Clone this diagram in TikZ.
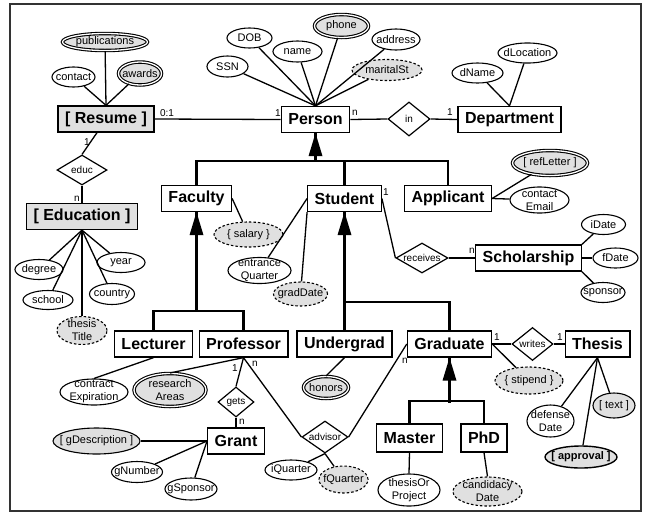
\documentclass[tikz,border=0pt]{standalone}
\usepackage{fontspec}
\setmainfont{Liberation Sans}
\usetikzlibrary{shapes.geometric,calc}

\definecolor{attrgray}{RGB}{224,224,224}

\begin{document}
\begin{tikzpicture}
  [x=1pt,y=-1pt,
   entity/.style={rectangle,draw,line width=1.3pt,fill=white,minimum height=26pt,inner xsep=7pt,
     font=\fontsize{16}{18}\selectfont\bfseries},
   grayent/.style={entity,fill=attrgray},
   rel/.style={diamond,draw,line width=1.2pt,fill=white,inner sep=-10pt,font=\fontsize{10}{10}\selectfont},
   attr/.style={ellipse,draw,line width=1.1pt,fill=white,inner sep=-10pt,align=center,
     font=\fontsize{11}{13}\selectfont},
   grayattr/.style={attr,fill=attrgray},
   multi/.style={attr,fill=attrgray,double=white,double distance=1.3pt},
   derived/.style={attr,fill=attrgray,dash pattern=on 2.5pt off 2pt},
   sz/.style 2 args={minimum width=#1pt,minimum height=#2pt},
   link/.style={line width=1.3pt},
   isaline/.style={line width=2.2pt},
   card/.style={inner sep=0pt,font=\fontsize{10}{10}\selectfont}]
  \useasboundingbox (0,0) rectangle (647,517);
  \draw[line width=1.8pt,black!80] (10,4) rectangle (641,511);

  % entities
  \node[grayent] (resume) at (106,119) {[ Resume ]};
  \node[entity] (person) at (315.5,119.5) {Person};
  \node[entity] (department) at (509.5,119.5) {Department};
  \node[grayent] (education) at (82,216.5) {[ Education ]};
  \node[entity] (faculty) at (196.5,198.5) {Faculty};
  \node[entity] (student) at (344.5,198.5) {Student};
  \node[entity] (applicant) at (448,198.5) {Applicant};
  \node[entity] (scholarship) at (528.5,258) {Scholarship};
  \node[entity] (lecturer) at (153.5,344) {Lecturer};
  \node[entity] (professor) at (243.5,344) {Professor};
  \node[entity] (undergrad) at (344.5,344) {Undergrad};
  \node[entity] (graduate) at (449.5,344) {Graduate};
  \node[entity] (thesis) at (597.5,344) {Thesis};
  \node[entity] (grant) at (236,441) {Grant};
  \node[entity,minimum height=28pt] (master) at (409.5,438) {Master};
  \node[entity,minimum height=28pt] (phd) at (484,438) {PhD};

  % relationships
  \node[rel,sz={42}{34}] (in) at (409,119) {in};
  \node[rel,sz={50}{30}] (educ) at (82,170) {educ};
  \node[rel,sz={52}{30}] (receives) at (422,258) {receives};
  \node[rel,sz={36}{30}] (gets) at (236,402) {gets};
  \node[rel,sz={46}{32}] (advisor) at (325,437) {advisor};
  \node[rel,sz={41}{33}] (writes) at (532.5,344) {writes};

  % attributes
  \node[attr,sz={41}{21}] (ssn) at (227.5,66.5) {SSN};
  \node[attr,sz={45}{20}] (dob) at (249.5,38) {DOB};
  \node[attr,sz={49}{21}] (name) at (297.5,51.5) {name};
  \node[multi,sz={54}{23}] (phone) at (341.5,26) {phone};
  \node[attr,sz={48}{21}] (address) at (396,39.5) {address};
  \node[derived,sz={70}{21}] (marital) at (387,70) {maritalSt};
  \node[multi,sz={85}{17}] (publications) at (105,42) {publications};
  \node[attr,sz={43}{20}] (contact) at (73.5,77) {contact};
  \node[multi,sz={43}{23}] (awards) at (140,73.5) {awards};
  \node[attr,sz={51}{20}] (dname) at (477.5,73) {dName};
  \node[attr,sz={59}{20}] (dlocation) at (527.5,53) {dLocation};
  \node[attr,sz={48}{20}] (degree) at (39,269.5) {degree};
  \node[attr,sz={50}{19}] (school) at (48,300) {school};
  \node[derived,sz={50}{28}] (thesistitle) at (82,330.5) {thesis\\Title};
  \node[attr,sz={48}{20}] (year) at (121,262.5) {year};
  \node[attr,sz={45}{21}] (country) at (112,294) {country};
  \node[derived,sz={69}{25}] (salary) at (248.5,234.5) {\{ salary \}};
  \node[attr,sz={63}{26}] (entrance) at (259.5,270.5) {entrance\\Quarter};
  \node[derived,sz={54}{24}] (graddate) at (300.5,294) {gradDate};
  \node[multi,sz={75}{25}] (refletter) at (550,163) {[ refLetter ]};
  \node[attr,sz={59}{26}] (contactemail) at (539.5,200) {contact\\Email};
  \node[attr,sz={44}{20}] (idate) at (603.5,224.5) {iDate};
  \node[attr,sz={45}{20}] (fdate) at (615.5,258) {fDate};
  \node[attr,sz={44}{20}] (sponsor) at (603,292.5) {sponsor};
  \node[attr,sz={68}{26}] (contractexp) at (94,392) {contract\\Expiration};
  \node[multi,sz={72}{33}] (research) at (170,390) {research\\Areas};
  \node[grayattr,sz={87}{26}] (gdesc) at (96.5,441) {[ gDescription ]};
  \node[attr,sz={51}{21}] (gnumber) at (137,472) {gNumber};
  \node[attr,sz={52}{22}] (gsponsor) at (191,489) {gSponsor};
  \node[attr,sz={52}{20}] (iquarter) at (291,470) {iQuarter};
  \node[derived,sz={49}{27}] (fquarter) at (343.5,479.5) {fQuarter};
  \node[multi,sz={45}{22}] (honors) at (326,387.5) {honors};
  \node[attr,sz={62}{32}] (thesisorproject) at (409,490) {thesisOr\\Project};
  \node[derived,sz={69}{29}] (candidacy) at (487.5,491.5) {candidacy\\Date};
  \node[derived,sz={68}{27}] (stipend) at (529,380.5) {\{ stipend \}};
  \node[attr,sz={47}{32}] (defense) at (550.5,421) {defense\\Date};
  \node[grayattr,sz={72}{22},line width=1.4pt,font=\fontsize{11}{13}\selectfont\bfseries] (approval) at (581,457) {[ approval ]};
  \node[grayattr,sz={42}{25}] (textattr) at (614,405.5) {[ text ]};

  % cardinalities
  \node[card] (cResume) at (167,113) {0:1};
  \node[card] (cPerson1) at (278,113) {1};
  \node[card] (cPersonN) at (355,113) {n};
  \node[card] (cDept) at (450,112) {1};
  \node[card] (cEduc1) at (87,142) {1};
  \node[card] (cEducN) at (77,199) {n};
  \node[card] (cStudent) at (386,192) {1};
  \node[card] (cSchol) at (472,251) {n};
  \node[card] (cProf1) at (235,368) {1};
  \node[card] (cProfN) at (255,364) {n};
  \node[card] (cGrant) at (242,422) {n};
  \node[card] (cGradN) at (405,361) {n};
  \node[card] (cGrad1) at (497,337) {1};
  \node[card] (cThesis) at (560,337) {1};

  % attribute links
  \foreach \a in {ssn,dob,name,phone,address,marital}
    \draw[link] (person.north) -- (\a);
  \foreach \a in {publications,contact,awards}
    \draw[link] (resume.north) -- (\a);
  \foreach \a in {dname,dlocation}
    \draw[link] (department.north) -- (\a);
  \foreach \a in {degree,school,thesistitle,year,country}
    \draw[link] (education.south) -- (\a);
  \foreach \a in {refletter,contactemail}
    \draw[link] (applicant.east) -- (\a);
  \foreach \a in {gdesc,gnumber,gsponsor}
    \draw[link] (grant.west) -- (\a);
  \foreach \a in {iquarter,fquarter}
    \draw[link] (advisor.south) -- (\a);
  \foreach \a in {defense,approval,textattr}
    \draw[link] (thesis.south) -- (\a);
  \draw[link] (faculty.east) -- (salary);
  \draw[link] (student.west) -- (entrance);
  \draw[link] (student.south west) -- (graddate);
  \draw[link] (scholarship.north east) -- (idate);
  \draw[link] (scholarship.east) -- (fdate);
  \draw[link] (scholarship.south east) -- (sponsor);
  \draw[link] (lecturer.south) -- (contractexp.north);
  \draw[link] (professor.south) -- (research.north);
  \draw[link] (undergrad.south) -- (honors.north);
  \draw[link] (master.south) -- (thesisorproject.north);
  \draw[link] (phd.south) -- (candidacy.north);
  \draw[link] (graduate.east) -- (stipend);

  % relationship links
  \draw[link] (resume.east) -- (person.west);
  \draw[link] (person.east) -- (in.west);
  \draw[link] (in.east) -- (department.west);
  \draw[link] ($(resume.south)+(-9,0)$) -- (educ.north);
  \draw[link] (educ.south) -- (education.north);
  \draw[link] (student.east) -- (receives.west);
  \draw[link] (receives.east) -- (scholarship.west);
  \draw[link] (professor.south) -- (gets.north);
  \draw[link] (gets.south) -- (grant.north);
  \draw[link] (professor.south) -- (advisor.west);
  \draw[link] (graduate.west) -- (advisor.east);
  \draw[link] (graduate.east) -- (writes.west);
  \draw[link] (writes.east) -- (thesis.west);

  % isa hierarchies
  \draw[isaline] (person.south) -- ++(0,28);
  \draw[isaline] (faculty.north) -- ++(0,-24) -| (applicant.north);
  \draw[isaline] (student.north) -- ++(0,-24);
  \fill (person.south) -- ++(-7,23) -- ++(14,0) -- cycle;
  \draw[isaline] (faculty.south) -- ++(0,100);
  \draw[isaline] (lecturer.north) -- ++(0,-19) -| (professor.north);
  \fill (faculty.south) -- ++(-7,23) -- ++(14,0) -- cycle;
  \draw[isaline] (student.south) -- (undergrad.north);
  \draw[isaline] (graduate.north) -- ++(0,-28) -| (undergrad.north);
  \fill (student.south) -- ++(-7,23) -- ++(14,0) -- cycle;
  \draw[isaline] (graduate.south) -- ++(0,45);
  \draw[isaline] (master.north) -- ++(0,-22) -| (phd.north);
  \fill (graduate.south) -- ++(-7,23) -- ++(14,0) -- cycle;
\end{tikzpicture}
\end{document}
